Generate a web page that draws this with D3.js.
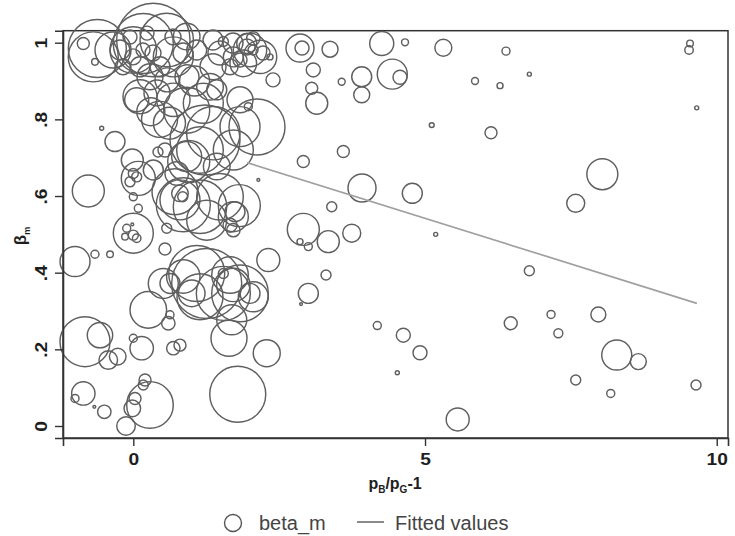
<!DOCTYPE html>
<html><head><meta charset="utf-8">
<script src="https://cdn.jsdelivr.net/npm/d3@7/dist/d3.min.js"></script>
<style>body{margin:0;background:#fff}svg{display:block}</style>
</head><body>
<svg id="chart" width="735" height="536"></svg>
<script>
// price gap p_B/p_G - 1 (x), beta_m (y), analytic weight (bubble area)
const priceGap = [4.258,4.657,5.314,6.388,9.542,9.525,9.657,5.857,6.286,6.788,5.115,6.131,8.039,7.583,4.782,4.439,4.571,5.183,6.788,4.182,4.628,4.914,4.525,5.560,6.469,7.160,7.285,7.971,8.286,8.656,7.583,8.183,9.645,
3.372,2.857,2.892,3.085,3.572,3.915,3.915,3.144,3.058,3.600,2.914,3.401,3.920,2.914,3.342,3.744,3.000,2.857,3.303,3.000,2.875,2.287,2.314,1.790,1.640,1.687,2.143,
-0.828,-0.571,-0.429,-0.267,0.000,0.144,0.257,0.600,0.629,0.686,0.800,-0.857,-0.999,-0.668,-0.497,0.286,0.201,0.171,0.029,-0.017,-0.125,
1.258,1.087,0.857,1.001,1.658,1.829,1.714,2.057,2.000,1.543,0.629,0.514,1.143,1.543,
-0.771,0.086,0.000,0.058,0.000,0.086,0.000,-0.113,0.000,0.058,-0.142,-0.017,-0.999,-0.657,-0.399,0.543,0.573,-0.314,-0.017,0.543,0.423,-0.542,-0.057,
0.857,0.715,0.915,1.200,0.686,1.371,1.829,2.120,1.143,0.915,1.714,1.829,1.971,1.430,1.143,1.486,0.800,1.714,0.800,0.847,1.229,1.430,0.744,0.343,1.817,1.743,1.658,1.714,1.258,0.115,0.058,
-0.857,-0.657,-0.617,-0.348,-0.686,
0.343,0.171,0.573,0.000,0.686,-0.228,-0.005,0.166,0.338,0.115,-0.177,0.458,0.286,0.578,0.235,-0.057,0.680,0.852,0.920,0.406,1.709,1.949,2.052,1.829,1.658,1.486,1.366,2.223,2.343,1.366,2.395,1.543,1.944,2.000,2.172,1.714,1.885,2.057,1.315,1.087,0.915,
0.45,0.62,0.30,1.05,0.95];
const betaM = [0.998,1.001,0.987,0.978,0.998,0.981,0.830,0.900,0.888,0.918,0.785,0.765,0.657,0.581,0.607,0.918,0.910,0.500,0.405,0.262,0.237,0.191,0.139,0.017,0.268,0.291,0.242,0.291,0.185,0.168,0.120,0.085,0.107,
0.983,0.986,0.986,0.929,0.898,0.911,0.864,0.842,0.881,0.716,0.690,0.572,0.621,0.513,0.481,0.503,0.468,0.481,0.394,0.346,0.318,0.190,0.433,0.083,0.229,0.277,0.642,
0.220,0.237,0.172,0.181,0.229,0.203,0.303,0.268,0.290,0.203,0.211,0.085,0.072,0.050,0.037,0.055,0.120,0.107,0.072,0.046,0.000,
0.372,0.398,0.390,0.346,0.394,0.346,0.368,0.337,0.346,0.398,0.372,0.372,0.337,0.346,
0.613,0.646,0.659,0.650,0.598,0.568,0.503,0.516,0.498,0.490,0.494,0.526,0.429,0.448,0.448,0.462,0.516,0.742,0.694,0.720,0.715,0.777,0.637,
0.577,0.611,0.824,0.842,0.851,0.764,0.781,0.780,0.720,0.703,0.720,0.851,0.833,0.877,0.572,0.598,0.590,0.546,0.607,0.598,0.746,0.677,0.659,0.668,0.575,0.559,0.524,0.511,0.537,0.859,0.851,
0.998,0.950,0.985,0.981,0.963,
1.007,0.998,1.007,0.981,0.963,0.981,0.963,0.981,0.973,0.937,0.937,0.937,0.911,0.903,1.025,1.015,1.015,0.973,0.911,0.869,0.999,0.989,0.981,0.955,0.937,0.973,1.007,0.973,0.963,0.937,0.903,1.003,0.998,0.981,0.963,0.963,0.946,1.011,0.885,0.981,1.016,
0.800,0.790,0.820,0.900,0.690];
const weight = [144,12,72,16,11,18,4,12,9,4,6,36,240,81,100,225,49,4,25,16,49,49,4,132,42,16,20,56,225,64,25,16,25,
64,196,49,49,12,100,64,121,36,36,36,25,196,256,121,81,16,9,25,100,2,182,132,784,324,225,2,
625,161,86,69,16,137,335,45,16,45,36,137,16,2,45,543,36,25,36,69,86,
1225,784,279,177,335,801,279,225,100,25,100,225,529,729,
256,289,25,25,16,16,400,16,25,18,11,2,225,16,11,36,25,100,121,49,25,4,25,
729,529,529,400,279,713,400,784,543,225,400,169,16,100,713,543,400,225,69,25,1225,177,137,100,441,100,49,45,400,289,144,
36,11,841,324,625,
1347,900,713,543,400,100,64,49,64,100,64,100,169,144,49,49,64,100,144,169,100,64,25,49,64,144,100,49,9,169,49,25,100,279,279,100,177,45,177,100,177,
324,256,196,225,441];

// linear fit (Fitted values)
const fitX = [1.95, 9.66];
const fitY = [0.687, 0.320];

const xTicks = [0, 5, 10];
const yTicks = [0, 0.2, 0.4, 0.6, 0.8, 1];
const yTickLabels = ["0", ".2", ".4", ".6", ".8", "1"];

const svg = d3.select("#chart");
const L = 63, R = 728, T = 30.7, B = 438;
const x = d3.scaleLinear().domain([-1.205, 10.193]).range([L, R]);
const y = d3.scaleLinear().domain([-0.0313, 1.0313]).range([B, T]);
const r = d3.scaleSqrt().domain([0, 1600]).range([0, 40]);

// frame
svg.append("rect").attr("x", L).attr("y", T).attr("width", R - L).attr("height", B - T)
  .attr("fill", "none").attr("stroke", "#333").attr("stroke-width", 1.5);

// bubbles
const pts = priceGap.map((d, i) => ({x: d, y: betaM[i], w: weight[i]}));
svg.append("g").selectAll("circle").data(pts).join("circle")
  .attr("cx", d => x(d.x)).attr("cy", d => y(d.y)).attr("r", d => Math.max(1.3, r(d.w)))
  .attr("fill", "none").attr("stroke", "#5f5f5f").attr("stroke-width", 1.45);

// fitted line
svg.append("path").datum(fitX.map((d, i) => [d, fitY[i]]))
  .attr("d", d3.line().x(d => x(d[0])).y(d => y(d[1])))
  .attr("fill", "none").attr("stroke", "#a0a0a0").attr("stroke-width", 1.7);

// axes
const xa = svg.append("g").attr("transform", `translate(0,${B})`)
  .call(d3.axisBottom(x).tickValues(xTicks).tickSize(8).tickFormat(d3.format("d")));
xa.select(".domain").attr("stroke", "#333").attr("stroke-width", 1.6);
xa.selectAll(".tick line").attr("stroke", "#333").attr("stroke-width", 1.4);
xa.selectAll(".tick text").attr("y", 27).attr("dy", 0)
  .attr("font-family", "Liberation Sans, Arial, sans-serif").attr("font-size", 16)
  .attr("font-weight", "bold").attr("fill", "#1e1e1e").attr("transform", "scale(1.2,1)");

const ya = svg.append("g").attr("transform", `translate(${L},0)`)
  .call(d3.axisLeft(y).tickValues(yTicks).tickSize(8).tickFormat((d, i) => yTickLabels[i]));
ya.select(".domain").attr("stroke", "#333").attr("stroke-width", 1.6);
ya.selectAll(".tick line").attr("stroke", "#333").attr("stroke-width", 1.4);
ya.selectAll(".tick text").attr("x", 0).attr("y", 0).attr("dy", 0)
  .attr("text-anchor", "middle")
  .attr("transform", "translate(-16,0) rotate(-90) scale(1.2,1)")
  .attr("font-family", "Liberation Sans, Arial, sans-serif").attr("font-size", 16)
  .attr("font-weight", "bold").attr("fill", "#1e1e1e");

// axis titles
const xt = svg.append("text").attr("x", 395).attr("y", 489).attr("text-anchor", "middle")
  .attr("font-family", "Liberation Sans, Arial, sans-serif").attr("font-size", 16)
  .attr("font-weight", "bold").attr("fill", "#1e1e1e");
xt.append("tspan").text("p");
xt.append("tspan").attr("dy", 4).attr("font-size", 10).text("B");
xt.append("tspan").attr("dy", -4).text("/p");
xt.append("tspan").attr("dy", 4).attr("font-size", 10).text("G");
xt.append("tspan").attr("dy", -4).text("-1");

const yt = svg.append("text").attr("transform", "translate(26,236) rotate(-90)").attr("text-anchor", "middle")
  .attr("font-family", "Liberation Sans, Arial, sans-serif").attr("font-size", 17)
  .attr("font-weight", "bold").attr("fill", "#1e1e1e");
yt.append("tspan").text("β");
yt.append("tspan").attr("dy", 4).attr("font-size", 9).text("m");

// legend
const lg = svg.append("g").attr("font-family", "Liberation Sans, Arial, sans-serif").attr("font-size", 20).attr("fill", "#444");
lg.append("circle").attr("cx", 233).attr("cy", 523).attr("r", 8.5).attr("fill", "none").attr("stroke", "#555").attr("stroke-width", 1.4);
lg.append("text").attr("x", 259).attr("y", 530).text("beta_m");
lg.append("line").attr("x1", 357).attr("x2", 384).attr("y1", 522).attr("y2", 522).attr("stroke", "#8a8a8a").attr("stroke-width", 2);
lg.append("text").attr("x", 395).attr("y", 530).text("Fitted values");
</script>
</body></html>
